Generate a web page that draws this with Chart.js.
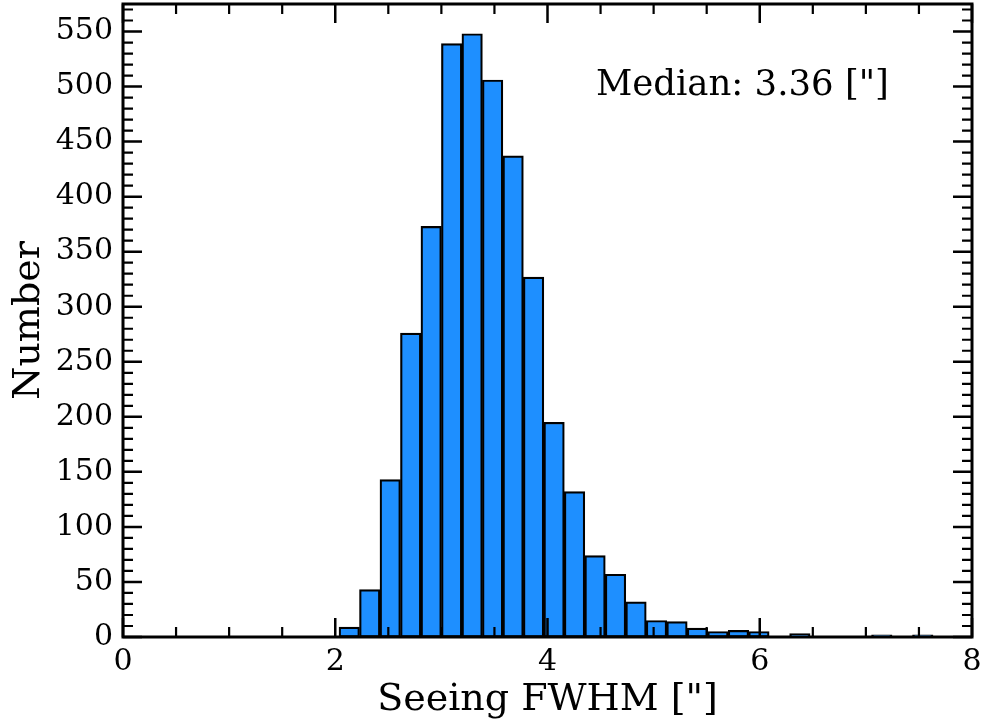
<!DOCTYPE html>
<html>
<head>
<meta charset="utf-8">
<style>
  html, body { margin: 0; padding: 0; background: #ffffff; }
  canvas { display: block; }
</style>
<script src="https://cdn.jsdelivr.net/npm/chart.js@4.4.1/dist/chart.umd.min.js"></script>
</head>
<body>
<canvas id="c" width="984" height="725"></canvas>
<script>
// ---- Data ----
const binCenters = [2.132, 2.325, 2.518, 2.711, 2.904, 3.097, 3.290, 3.483, 3.676, 3.869,
                    4.062, 4.255, 4.448, 4.641, 4.834, 5.027, 5.220, 5.413, 5.606, 5.799,
                    5.992, 6.185, 6.378, 6.571, 6.764, 6.957, 7.150, 7.343, 7.536];
const counts =     [9, 43, 143, 276, 373, 539, 548, 506, 437, 327,
                    195, 132, 74, 57, 32, 15, 14, 8, 5, 6,
                    5, 0, 3, 0, 0, 0, 2, 0, 2];
const xTickLabels = [0, 2, 4, 6, 8];
const yTickLabels = [0, 50, 100, 150, 200, 250, 300, 350, 400, 450, 500, 550];
const xMinorTicks = [0.5, 1, 1.5, 2.5, 3, 3.5, 4.5, 5, 5.5, 6.5, 7, 7.5];
const xLabelText = 'Seeing FWHM ["]';
const yLabelText = 'Number';
const annotationText = 'Median: 3.36 ["]';

const FONT = '"DejaVu Serif", "Liberation Serif", serif';

const points = binCenters.map((x, i) => ({ x: x, y: counts[i] }));

const framePlugin = {
  id: 'frameTicks',
  afterDraw(chart) {
    const ctx = chart.ctx;
    const a = chart.chartArea;
    const xs = chart.scales.x, ys = chart.scales.y;
    ctx.save();
    ctx.strokeStyle = '#000';
    ctx.lineCap = 'butt';
    const drawX = (v, len, w) => {
      const px = xs.getPixelForValue(v);
      ctx.lineWidth = w;
      ctx.beginPath();
      ctx.moveTo(px, a.bottom); ctx.lineTo(px, a.bottom - len);
      ctx.moveTo(px, a.top); ctx.lineTo(px, a.top + len);
      ctx.stroke();
    };
    xTickLabels.forEach(v => drawX(v, 19, 2.5));
    xMinorTicks.forEach(v => drawX(v, 10, 2.2));
    const drawY = (v, len, w) => {
      const py = ys.getPixelForValue(v);
      ctx.lineWidth = w;
      ctx.beginPath();
      ctx.moveTo(a.left, py); ctx.lineTo(a.left + len, py);
      ctx.moveTo(a.right, py); ctx.lineTo(a.right - len, py);
      ctx.stroke();
    };
    for (let v = 0; v <= ys.max; v += 10) {
      if (v % 50 === 0) drawY(v, 19, 2.5); else drawY(v, 10, 2.2);
    }
    ctx.lineWidth = 3;
    ctx.strokeRect(a.left, a.top, a.right - a.left, a.bottom - a.top);
    ctx.fillStyle = '#000';
    ctx.font = '35.5px ' + FONT;
    ctx.textAlign = 'left';
    ctx.textBaseline = 'alphabetic';
    ctx.fillText(annotationText, a.left + (a.right - a.left) * 0.557, a.top + 91);
    ctx.restore();
  }
};

function zeroPad(scale) {
  scale.paddingTop = 0; scale.paddingBottom = 0;
  scale.paddingLeft = 0; scale.paddingRight = 0;
}

new Chart(document.getElementById('c'), {
  type: 'bar',
  data: {
    datasets: [{
      data: points,
      backgroundColor: '#1e8fff',
      borderColor: '#000000',
      borderWidth: 2.2,
      borderSkipped: false,
      barPercentage: 1.0,
      categoryPercentage: 1.0
    }]
  },
  options: {
    responsive: false,
    animation: false,
    devicePixelRatio: 1,
    layout: { padding: { top: 4, right: 12, left: 0, bottom: 0 } },
    plugins: { legend: { display: false }, tooltip: { enabled: false } },
    scales: {
      x: {
        type: 'linear',
        min: 0, max: 8,
        offset: false,
        grid: { display: false, drawTicks: false },
        border: { display: false },
        ticks: {
          stepSize: 2,
          padding: 7,
          color: '#000',
          font: { family: FONT, size: 30 },
          maxRotation: 0,
          callback: (v) => xTickLabels.includes(v) ? String(v) : ''
        },
        title: {
          display: true, text: xLabelText, color: '#000',
          font: { family: FONT, size: 38 },
          padding: { top: 0, bottom: 2 }
        },
        afterFit(scale) { scale.height = 88; zeroPad(scale); }
      },
      y: {
        type: 'linear',
        min: 0, max: 575,
        grid: { display: false, drawTicks: false },
        border: { display: false },
        ticks: {
          stepSize: 50,
          includeBounds: false,
          padding: 10,
          color: '#000',
          font: { family: FONT, size: 30 },
          callback: (v) => yTickLabels.includes(v) ? String(v) : ''
        },
        title: {
          display: true, text: yLabelText, color: '#000',
          font: { family: FONT, size: 38 },
          padding: { top: 6, bottom: 0 }
        },
        afterFit(scale) { scale.width = 123; zeroPad(scale); }
      }
    }
  },
  plugins: [framePlugin]
});
</script>
</body>
</html>
